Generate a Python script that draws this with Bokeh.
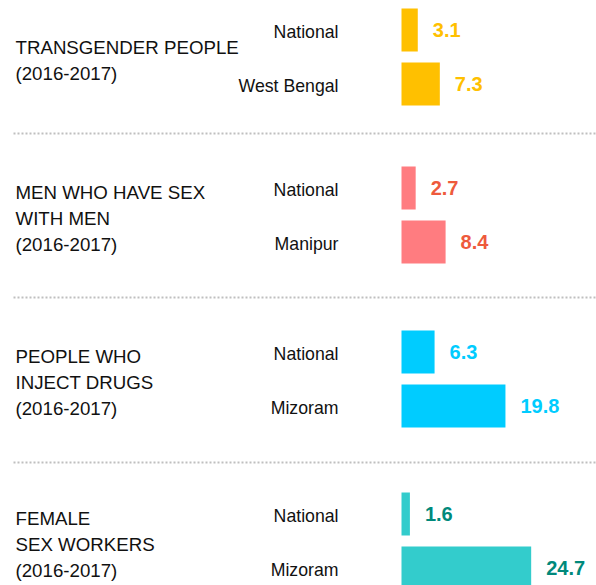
from bokeh.plotting import figure
from bokeh.models import ColumnDataSource, Range1d
from bokeh.core.properties import value
from bokeh.embed import file_html
from bokeh.resources import INLINE

# ---- data ----
group_titles = [
    "TRANSGENDER PEOPLE\n(2016-2017)",
    "MEN WHO HAVE SEX\nWITH MEN\n(2016-2017)",
    "PEOPLE WHO\nINJECT DRUGS\n(2016-2017)",
    "FEMALE\nSEX WORKERS\n(2016-2017)",
]
national_label = "National"
state_labels = ["West Bengal", "Manipur", "Mizoram", "Mizoram"]
national_values = [3.1, 2.7, 6.3, 1.6]
state_values = [7.3, 8.4, 19.8, 24.7]
value_labels_nat = ["3.1", "2.7", "6.3", "1.6"]
value_labels_state = ["7.3", "8.4", "19.8", "24.7"]

# ---- styles / layout ----
bar_colors = ["#FFC000", "#FF7C80", "#00CCFF", "#33CCCC"]
text_colors = ["#FFC000", "#EE5A3C", "#00CCFF", "#00897B"]
W, H = 596, 585
X0 = 401.0      # pixel of value 0
SCALE = 5.25    # pixels per unit
panel_tops = [8, 166, 330, 492]
BAR_H = 43
GAP = 11
sep_y = [133, 297, 462]
FONT = "Liberation Sans"

def px2x(px):
    return (px - X0) / SCALE

p = figure(width=W, height=H, output_backend="svg", toolbar_location=None,
           x_range=Range1d(px2x(0), px2x(W)), y_range=Range1d(H, 0),
           min_border=0, min_border_left=0, min_border_right=0,
           min_border_top=0, min_border_bottom=0)
p.axis.visible = False
p.xgrid.visible = False
p.ygrid.visible = False
p.outline_line_color = None
p.background_fill_color = "white"
p.border_fill_color = "white"

bar_y, bar_v, bar_c, txt_c, txt, lab_y, lab_t = [], [], [], [], [], [], []
for i in range(4):
    yn = panel_tops[i] + BAR_H / 2
    ys = panel_tops[i] + BAR_H + GAP + BAR_H / 2
    bar_y += [yn, ys]
    bar_v += [national_values[i], state_values[i]]
    bar_c += [bar_colors[i]] * 2
    txt_c += [text_colors[i]] * 2
    txt += [value_labels_nat[i], value_labels_state[i]]
    lab_y += [yn + 1.5, ys + 1.5]
    lab_t += [national_label, state_labels[i]]

src = ColumnDataSource(dict(y=bar_y, v=bar_v, c=bar_c, tc=txt_c, t=txt,
                            ly=lab_y, lt=lab_t))

p.hbar(y="y", left=0, right="v", height=BAR_H, fill_color="c",
       line_color=None, source=src)

p.text(x="v", y="y", text="t", text_color="tc", x_offset=15,
       text_font=value(FONT), text_font_style="bold",
       text_font_size=value("20px"), text_align="left",
       text_baseline="middle", source=src)

p.text(x=px2x(338), y="ly", text="lt", text_color="#111111",
       text_font=value(FONT), text_font_size=value("17.7px"),
       text_align="right", text_baseline="middle", source=src)

# group titles
tx, ty, tt = [], [], []
for i, title in enumerate(group_titles):
    lines = title.split("\n")
    center = panel_tops[i] + BAR_H + GAP / 2 + 3
    n = len(lines)
    for j, line in enumerate(lines):
        tx.append(px2x(15))
        ty.append(center + (j - (n - 1) / 2) * 26)
        tt.append(line)
p.text(x=tx, y=ty, text=tt, text_color="#111111",
       text_font=value(FONT), text_font_size=value("18.7px"),
       text_align="left", text_baseline="middle")

# dotted separators
for y in sep_y:
    p.line(x=[px2x(13), px2x(W)], y=[y, y], line_color="#BFBFBF",
           line_width=2, line_dash="2 2")

open("out.html", "w").write(file_html(p, INLINE))
